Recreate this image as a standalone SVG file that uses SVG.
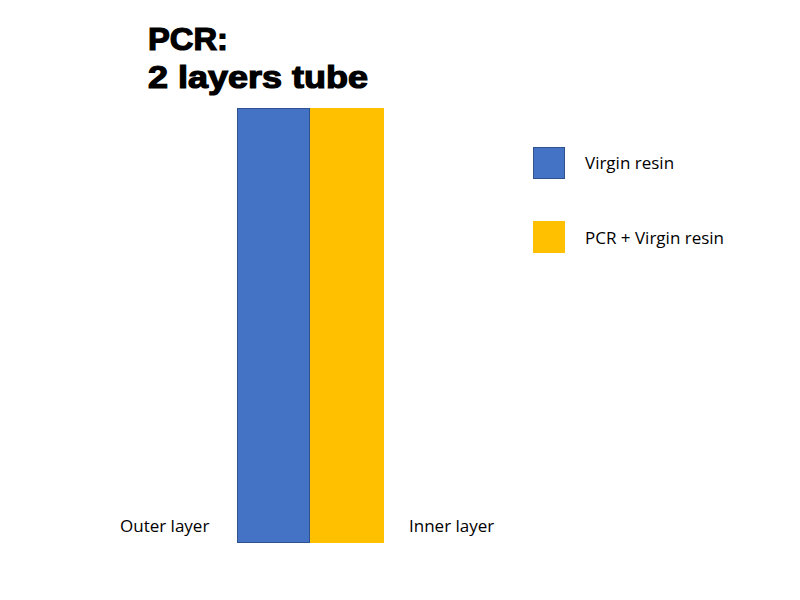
<svg xmlns="http://www.w3.org/2000/svg" width="800" height="600" viewBox="0 0 800 600">
<style>
.title{font-family:"Liberation Sans",Arial,sans-serif;font-weight:bold;font-size:31px;fill:#000;stroke:#000;stroke-width:1.2px}
.lbl{font-family:"Open Sans","Liberation Sans",sans-serif;font-size:17px;fill:#000}
.blue{fill:#4472C4;stroke:#2F528F;stroke-width:1}
.yellow{fill:#FFC000;stroke:none}
</style>
<rect width="800" height="600" fill="#fff"/>
<g id="title">
<text class="title" x="148" y="50" textLength="80" lengthAdjust="spacingAndGlyphs">PCR:</text>
<text class="title" x="148" y="88" textLength="220" lengthAdjust="spacingAndGlyphs">2 layers tube</text>
</g>
<g id="outer-layer">
<rect class="blue" x="237.5" y="108.5" width="72" height="434"/>
</g>
<g id="inner-layer">
<rect class="yellow" x="310" y="108" width="74" height="435"/>
</g>
<g id="label-outer"><text class="lbl" x="120" y="532">Outer layer</text></g>
<g id="label-inner"><text class="lbl" x="409" y="532">Inner layer</text></g>
<g id="legend-virgin">
<rect class="blue" x="533.5" y="147.5" width="31" height="31"/>
<text class="lbl" x="585" y="169">Virgin resin</text>
</g>
<g id="legend-pcr">
<rect class="yellow" x="533" y="221" width="32" height="32"/>
<text class="lbl" x="585" y="244">PCR + Virgin resin</text>
</g>
<g id="connectors"></g>
</svg>
